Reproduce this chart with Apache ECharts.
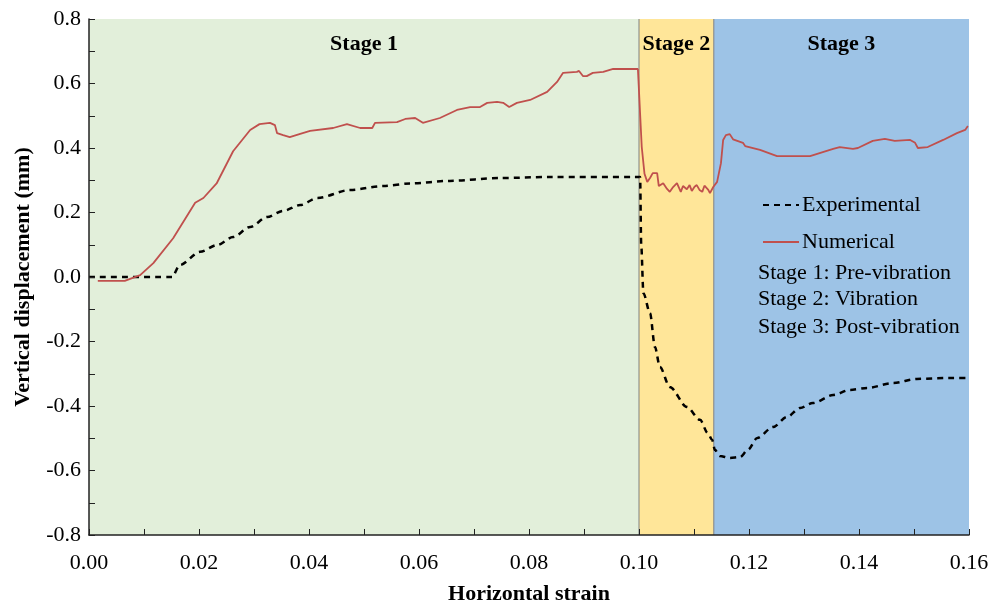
<!DOCTYPE html>
<html>
<head>
<meta charset="utf-8">
<script src="https://cdn.jsdelivr.net/npm/echarts@6/dist/echarts.min.js"></script>
<style>
html,body{margin:0;padding:0;background:#fff;}
#chart{width:989px;height:605px;}
</style>
</head>
<body>
<div id="chart"></div>
<script>
// ---- Data ----
const numStrain = [0.0016,0.0065,0.0093,0.0117,0.0153,0.0193,0.0208,0.0232,0.0262,0.0293,0.031,0.0329,0.0338,0.0342,0.0353,0.0365,0.0384,0.0402,0.0444,0.0469,0.0493,0.0515,0.052,0.056,0.0575,0.0593,0.0607,0.0638,0.0669,0.0693,0.0711,0.0724,0.0742,0.0753,0.0764,0.0778,0.0802,0.0833,0.0851,0.0862,0.0887,0.0891,0.0898,0.0905,0.0916,0.0935,0.0953,0.0998,
  0.1005,0.101,0.1015,0.102,0.1025,0.1033,0.1036,0.1044,0.1051,0.1056,0.1062,0.1069,0.1076,0.108,0.1087,0.1092,0.1096,0.1101,0.1105,0.1110,0.1115,0.1119,0.1122,0.1126,0.1129,0.1135,0.1142,0.1149,0.1153,0.1158,0.1165,0.1171,0.1189,0.1193,0.122,0.1251,0.1311,0.1353,0.1365,0.1389,0.1398,0.1425,0.1447,0.1465,0.1493,0.1502,0.1507,0.1525,0.1553,0.1578,0.1593,0.1598];
const numDisp = [-0.012,-0.012,0.006,0.043,0.12,0.23,0.245,0.29,0.39,0.456,0.474,0.478,0.471,0.446,0.44,0.434,0.444,0.453,0.462,0.474,0.462,0.462,0.478,0.48,0.49,0.493,0.478,0.493,0.518,0.527,0.527,0.54,0.543,0.54,0.527,0.54,0.549,0.574,0.605,0.633,0.636,0.639,0.623,0.623,0.633,0.636,0.645,0.645,
  0.403,0.32,0.295,0.307,0.322,0.322,0.282,0.291,0.273,0.264,0.279,0.291,0.264,0.282,0.272,0.285,0.267,0.280,0.285,0.270,0.264,0.283,0.288,0.270,0.26,0.279,0.295,0.353,0.425,0.44,0.443,0.427,0.416,0.406,0.394,0.375,0.375,0.397,0.403,0.397,0.4,0.422,0.428,0.422,0.425,0.416,0.4,0.403,0.425,0.446,0.456,0.468];
const expStrain = [0.0,0.0151,0.0165,0.0202,0.0233,0.0262,0.0293,0.0324,0.0353,0.0384,0.0415,0.0475,0.0535,0.0584,0.0656,0.0747,0.0838,0.0996,0.1002,0.1004,0.1008,0.102,0.1029,0.1038,0.1056,0.1087,0.1111,0.1125,0.1133,0.1138,0.1147,0.1165,0.1184,0.1198,0.1215,0.1244,0.1269,0.1293,0.1316,0.1353,0.1384,0.1415,0.1462,0.1505,0.1565,0.16];
const expDisp = [0.0,0.0,0.037,0.078,0.099,0.124,0.155,0.186,0.205,0.223,0.245,0.27,0.282,0.29,0.298,0.307,0.31,0.31,0.31,0.1,-0.05,-0.112,-0.217,-0.279,-0.341,-0.403,-0.443,-0.484,-0.505,-0.536,-0.555,-0.561,-0.558,-0.536,-0.499,-0.465,-0.434,-0.406,-0.391,-0.366,-0.35,-0.344,-0.329,-0.316,-0.313,-0.313];
const stageNames = ['Stage 1','Stage 2','Stage 3'];
const stageBounds = [0, 0.1, 0.1136, 0.16];
const stageColors = ['#E2EFDA','#FFE699','#9DC3E6'];
const stageNotes = ['Stage 1: Pre-vibration','Stage 2: Vibration','Stage 3: Post-vibration'];
const yMin = -0.8, yMax = 0.8;

const zip = (a,b) => a.map((v,i)=>[v,b[i]]);
const FONT = '"Liberation Serif","Times New Roman",serif';
const FS = 22;

const chart = echarts.init(document.getElementById('chart'));
const boundarySeries = [stageBounds[1], stageBounds[2]].map(b => ({
  type:'line', symbol:'none', silent:true, z:2,
  data:[[b,yMin],[b,yMax]],
  lineStyle:{color:'#808080',width:1},
  tooltip:{show:false}
}));
const option = {
  animation:false,
  backgroundColor:'#fff',
  grid:{left:89,right:20,top:19,bottom:70,containLabel:false,outerBoundsMode:'none'},
  xAxis:{
    type:'value', min:0, max:0.16, interval:0.02, z:10,
    name:'Horizontal strain', nameLocation:'middle', nameGap:48,
    nameTextStyle:{fontFamily:FONT,fontSize:FS,fontWeight:'bold',color:'#000'},
    axisLine:{show:true,onZero:false,lineStyle:{color:'#222',width:1.5}},
    axisTick:{show:true,inside:true,length:6,lineStyle:{color:'#222'}},
    minorTick:{show:true,splitNumber:2,length:6,lineStyle:{color:'#222'}},
    splitLine:{show:false},
    axisLabel:{fontFamily:FONT,fontSize:FS,color:'#000',margin:17,
      formatter:v=>v.toFixed(2)}
  },
  yAxis:{
    type:'value', min:yMin, max:yMax, interval:0.2, z:10,
    name:'Vertical displacement (mm)', nameLocation:'middle', nameGap:55,
    nameTextStyle:{fontFamily:FONT,fontSize:FS,fontWeight:'bold',color:'#000'},
    axisLine:{show:true,onZero:false,lineStyle:{color:'#222',width:1.5}},
    axisTick:{show:true,inside:true,length:6,lineStyle:{color:'#222'}},
    minorTick:{show:true,splitNumber:2,length:6,lineStyle:{color:'#222'}},
    splitLine:{show:false},
    axisLabel:{fontFamily:FONT,fontSize:FS,color:'#000',margin:8,
      formatter:v=>v.toFixed(1)}
  },
  legend:{
    orient:'vertical', left:757, top:189, itemWidth:36, itemHeight:14, itemGap:15,
    itemStyle:{opacity:0},
    textStyle:{fontFamily:FONT,fontSize:FS,color:'#000',padding:[0,0,0,-2]},
    data:['Experimental','Numerical']
  },
  graphic: stageNotes.map((t,i)=>({
    type:'text', left:758, top:[262,288,316][i], z:100,
    style:{text:t, font:FS+'px '+FONT, fill:'#000'}
  })),
  series:[
    {
      name:'Stages', type:'line', data:[], silent:true, z:1,
      markArea:{
        silent:true,
        label:{position:'insideTop',distance:14,fontFamily:FONT,fontSize:FS,fontWeight:'bold',color:'#000'},
        data: stageNames.map((n,i)=>[
          {name:n, xAxis:stageBounds[i], yAxis:yMin, itemStyle:{color:stageColors[i]}},
          {xAxis:stageBounds[i+1], yAxis:yMax}
        ])
      }
    },
    ...boundarySeries,
    {
      name:'Experimental', type:'line', symbol:'none', z:3,
      smooth:0.3, smoothMonotone:'x',
      data: zip(expStrain,expDisp),
      lineStyle:{color:'#000',width:2.5,type:[6,5]},
      itemStyle:{color:'#000'}
    },
    {
      name:'Numerical', type:'line', symbol:'none', z:4,
      data: zip(numStrain,numDisp),
      lineStyle:{color:'#C0504D',width:1.8},
      itemStyle:{color:'#C0504D'}
    }
  ]
};
chart.setOption(option);
</script>
</body>
</html>
